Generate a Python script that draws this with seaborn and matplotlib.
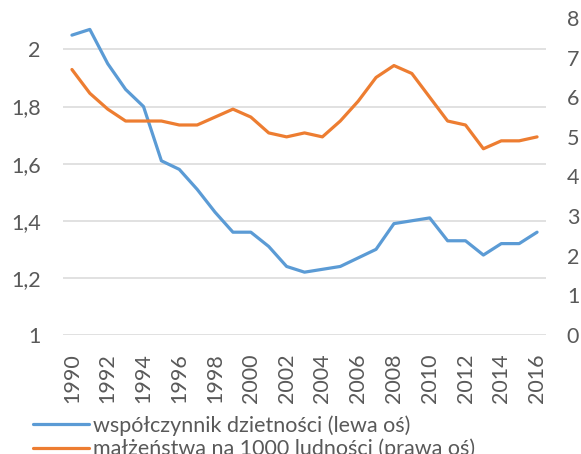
import pandas as pd
import numpy as np
import matplotlib
matplotlib.use("Agg")
import matplotlib.pyplot as plt
import seaborn as sns

# data
years = list(range(1990, 2017))
fertility = [2.05, 2.07, 1.95, 1.86, 1.80, 1.61, 1.58, 1.51, 1.43, 1.36,
             1.36, 1.31, 1.24, 1.22, 1.23, 1.24, 1.27, 1.30, 1.39, 1.40,
             1.41, 1.33, 1.33, 1.28, 1.32, 1.32, 1.36]
marriages = [6.7, 6.1, 5.7, 5.4, 5.4, 5.4, 5.3, 5.3, 5.5, 5.7,
             5.5, 5.1, 5.0, 5.1, 5.0, 5.4, 5.9, 6.5, 6.8, 6.6,
             6.0, 5.4, 5.3, 4.7, 4.9, 4.9, 5.0]
label_fert = "współczynnik dzietności (lewa oś)"
label_marr = "małżeństwa na 1000 ludności (prawa oś)"

df = pd.DataFrame({"rok": years, "dzietnosc": fertility, "malzenstwa": marriages})

sns.set_style("white")
plt.rcParams['font.family'] = ['Lato', 'DejaVu Sans']
grey = "#595959"
fs = 15.5

fig = plt.figure(figsize=(5.81, 4.54), dpi=100)
ax = fig.add_axes([63/581, 1-335/454, (546-63)/581, (335-18)/454])
ax2 = ax.twinx()

sns.lineplot(data=df, x="rok", y="dzietnosc", ax=ax, color="#5B9BD5", linewidth=2.3, label=label_fert, legend=False)
sns.lineplot(data=df, x="rok", y="malzenstwa", ax=ax2, color="#ED7D31", linewidth=2.3, label=label_marr, legend=False)

ax.set_xlim(1989.5, 2016.5)
ax.set_ylim(1, 2.11)
ax2.set_ylim(0, 8)

ax.set_yticks([1, 1.2, 1.4, 1.6, 1.8, 2])
ax.set_yticklabels(["1", "1,2", "1,4", "1,6", "1,8", "2"])
ax2.set_yticks(range(0, 9))
ax.set_xticks(years[::2])
ax.set_xticklabels([str(y) for y in years[::2]], rotation=90)

ax.grid(axis="y", color="#D9D9D9", linewidth=1.1)
ax.grid(axis="x", visible=False)
ax.set_axisbelow(True)
for a in (ax, ax2):
    for s in a.spines.values():
        s.set_visible(False)
    a.set_xlabel("")
    a.set_ylabel("")
ax.tick_params(axis="y", length=0, pad=16, labelsize=fs, labelcolor=grey)
ax.tick_params(axis="x", length=0, pad=13, labelsize=fs, labelcolor=grey)
ax2.tick_params(axis="y", length=0, pad=15, labelsize=fs, labelcolor=grey)

h1, l1 = ax.get_legend_handles_labels()
h2, l2 = ax2.get_legend_handles_labels()
leg = fig.legend(h1 + h2, l1 + l2, loc="upper left", bbox_to_anchor=(33/581, 1-415/454),
                 frameon=False, borderpad=0, borderaxespad=0, handlelength=2.6,
                 handletextpad=0.2, labelspacing=0.15, fontsize=fs)
for t in leg.get_texts():
    t.set_color(grey)

fig.savefig("out.png", dpi=100)
